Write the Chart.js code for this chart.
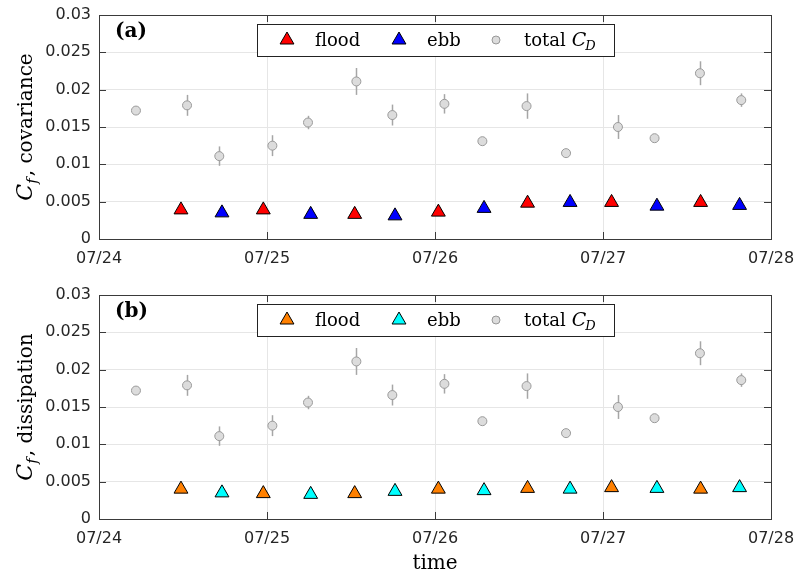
<!DOCTYPE html>
<html><head><meta charset="utf-8">
<script src="https://cdn.jsdelivr.net/npm/chart.js@4/dist/chart.umd.min.js"></script>
<style>
html,body{margin:0;padding:0;background:#fff;}
#wrap{position:relative;width:795px;height:575px;overflow:hidden;}
canvas{position:absolute;left:0;}
</style></head><body>
<div id="wrap"><canvas id="c1" width="795" height="280" style="top:0"></canvas><canvas id="c2" width="795" height="295" style="top:280px"></canvas></div>
<script>
// x values: days since 07/24 00:00
const dayLabels = ["07/24","07/25","07/26","07/27","07/28"];
const yTickLabels = ["0","0.005","0.01","0.015","0.02","0.025","0.03"];

const tTotal = [0.22,0.524,0.716,1.032,1.244,1.532,1.746,2.056,2.282,2.545,2.780,3.089,3.307,3.577,3.823];
const cdTotal = [0.0172,0.0179,0.0111,0.0125,0.0156,0.0211,0.0166,0.0181,0.0131,0.0178,0.0115,0.0150,0.0135,0.0222,0.0186];
const cdErr = [0.0002,0.0014,0.0013,0.0014,0.0009,0.0018,0.0014,0.0013,0.0003,0.0017,0.0004,0.0016,0.0002,0.0016,0.0009];

const tFlood = [0.488,0.978,1.522,2.020,2.551,3.051,3.581];
const tEbb = [0.732,1.260,1.762,2.292,2.804,3.321,3.813];

const covFlood = [0.0039,0.0039,0.0033,0.0036,0.0048,0.0049,0.0049];
const covEbb = [0.0035,0.0033,0.0031,0.0041,0.0049,0.0044,0.0045];
const dissFlood = [0.0040,0.0034,0.0034,0.0040,0.0041,0.0042,0.0040];
const dissEbb = [0.0035,0.0033,0.0037,0.0038,0.0040,0.0041,0.0042];

const SERIF = '"DejaVu Serif", serif';
const SANS = '"DejaVu Sans", sans-serif';
const AX = '#3a3a3a';

function pts(xs, ys){ return xs.map((x,i)=>({x:x,y:ys[i]})); }

function drawTri(ctx,x,y,r,fill){
  ctx.beginPath();
  ctx.moveTo(x, y - r);
  ctx.lineTo(x + r*Math.sin(2*Math.PI/3), y - r*Math.cos(2*Math.PI/3));
  ctx.lineTo(x + r*Math.sin(4*Math.PI/3), y - r*Math.cos(4*Math.PI/3));
  ctx.closePath();
  ctx.fillStyle = fill; ctx.fill();
  ctx.strokeStyle = '#000'; ctx.lineWidth = 1; ctx.stroke();
}

function makeChart(id, canvasH, floodVals, ebbVals, floodCol, ebbCol, letter, yName, showTime){
  const plugin = {
    id: 'deco'+id,
    beforeDatasetsDraw(chart){
      const ctx = chart.ctx, xs = chart.scales.x, ys = chart.scales.y;
      ctx.save();
      ctx.strokeStyle = '#a6a6a6'; ctx.lineWidth = 1.5;
      tTotal.forEach((t,i)=>{
        const px = Math.round(xs.getPixelForValue(t)) + 0.5;
        ctx.beginPath();
        ctx.moveTo(px, ys.getPixelForValue(cdTotal[i]-cdErr[i]));
        ctx.lineTo(px, ys.getPixelForValue(cdTotal[i]+cdErr[i]));
        ctx.stroke();
      });
      ctx.restore();
    },
    afterDraw(chart){
      const ctx = chart.ctx, a = chart.chartArea, xs = chart.scales.x, ys = chart.scales.y;
      ctx.save();
      // box
      ctx.strokeStyle = AX; ctx.lineWidth = 1;
      ctx.strokeRect(Math.round(a.left)+0.5, Math.round(a.top)+0.5, Math.round(a.right-a.left), Math.round(a.bottom-a.top));
      // inward ticks
      const TL = 7;
      ctx.beginPath();
      xs.ticks.forEach(t=>{
        const px = Math.round(xs.getPixelForValue(t.value))+0.5;
        ctx.moveTo(px, a.bottom); ctx.lineTo(px, a.bottom-TL);
        ctx.moveTo(px, a.top); ctx.lineTo(px, a.top+TL);
      });
      ys.ticks.forEach(t=>{
        const py = Math.round(ys.getPixelForValue(t.value))+0.5;
        ctx.moveTo(a.left, py); ctx.lineTo(a.left+TL, py);
        ctx.moveTo(a.right, py); ctx.lineTo(a.right-TL, py);
      });
      ctx.stroke();
      // panel letter
      ctx.fillStyle = '#000';
      ctx.font = 'bold 20px ' + SERIF;
      ctx.textBaseline = 'alphabetic'; ctx.textAlign = 'left';
      ctx.fillText(letter, 115, 37);
      // legend
      const L = {x:257, y:24, w:357, h:32};
      ctx.fillStyle = '#fff'; ctx.fillRect(L.x, L.y, L.w, L.h);
      ctx.strokeStyle = '#222'; ctx.lineWidth = 1;
      ctx.strokeRect(L.x+0.5, L.y+0.5, L.w, L.h);
      drawTri(ctx, 287, 40, 8, floodCol);
      drawTri(ctx, 399, 40, 8, ebbCol);
      ctx.beginPath(); ctx.arc(496, 40, 4, 0, Math.PI*2);
      ctx.fillStyle = '#dcdcdc'; ctx.fill(); ctx.strokeStyle = '#999'; ctx.lineWidth = 1; ctx.stroke();
      ctx.fillStyle = '#000';
      ctx.font = '18px ' + SERIF;
      ctx.fillText('flood', 315, 46);
      ctx.fillText('ebb', 427, 46);
      ctx.fillText('total', 524, 46);
      const cx = 524 + ctx.measureText('total').width + 6;
      ctx.font = 'italic 19px ' + SERIF;
      ctx.fillText('C', cx, 46);
      const wc2 = ctx.measureText('C').width;
      ctx.font = 'italic 13px ' + SERIF;
      ctx.fillText('D', cx + wc2 - 1, 50);
      // y title
      ctx.save();
      ctx.font = 'italic 22px ' + SERIF;
      const wC = ctx.measureText('C').width;
      ctx.font = 'italic 15px ' + SERIF;
      const wf = ctx.measureText('f').width;
      ctx.font = '20px ' + SERIF;
      const rest = ', ' + yName;
      const wr = ctx.measureText(rest).width;
      const total = wC + wf + 2 + wr;
      const cy = (a.top + a.bottom)/2;
      ctx.translate(32, cy + total/2);
      ctx.rotate(-Math.PI/2);
      ctx.fillStyle = '#000';
      ctx.font = 'italic 22px ' + SERIF;
      ctx.fillText('C', 0, 0);
      ctx.font = 'italic 15px ' + SERIF;
      ctx.fillText('f', wC, 5);
      ctx.font = '20px ' + SERIF;
      ctx.fillText(rest, wC + wf + 2, 0);
      ctx.restore();
      if (showTime){
        ctx.font = '20px ' + SERIF;
        ctx.textAlign = 'center';
        ctx.fillStyle = '#000';
        ctx.fillText('time', (a.left+a.right)/2, 289);
      }
      ctx.restore();
    }
  };
  return new Chart(document.getElementById(id), {
    type: 'scatter',
    data: { datasets: [
      { label:'flood', data: pts(tFlood, floodVals), pointStyle:'triangle', pointRadius:8, pointHoverRadius:8,
        backgroundColor: floodCol, borderColor:'#000', borderWidth:1, order:0 },
      { label:'ebb', data: pts(tEbb, ebbVals), pointStyle:'triangle', pointRadius:8, pointHoverRadius:8,
        backgroundColor: ebbCol, borderColor:'#000', borderWidth:1, order:1 },
      { label:'total C_D', data: pts(tTotal, cdTotal), pointStyle:'circle', pointRadius:4.5, pointHoverRadius:4.5,
        backgroundColor:'#dcdcdc', borderColor:'#9a9a9a', borderWidth:1, order:2 }
    ]},
    options: {
      responsive:false, animation:false, devicePixelRatio:1,
      layout:{ padding:{ left:0, right:24, top:15, bottom:0 } },
      plugins:{ legend:{display:false}, tooltip:{enabled:false} },
      scales:{
        x:{ type:'linear', min:0, max:4,
            afterFit(s){ s.height = canvasH - 239; s.paddingLeft = 0; s.paddingRight = 0; },
            grid:{ color:'#e6e6e6', drawTicks:false, lineWidth:1 },
            border:{ display:false },
            ticks:{ stepSize:1, autoSkip:false, padding:10, color:'#262626', font:{family:SANS, size:16},
                    callback:(v)=> dayLabels[Math.round(v)] } },
        y:{ type:'linear', min:0, max:0.03,
            afterFit(s){ s.width = 99; s.paddingTop = 0; s.paddingBottom = 0; },
            grid:{ color:'#e6e6e6', drawTicks:false, lineWidth:1 },
            border:{ display:false },
            ticks:{ stepSize:0.005, autoSkip:false, padding:8, color:'#262626', font:{family:SANS, size:16},
                    callback:(v,i)=> yTickLabels[i] } }
      }
    },
    plugins:[plugin]
  });
}

makeChart('c1', 280, covFlood, covEbb, '#ff0000', '#0000ff', '(a)', 'covariance', false);
makeChart('c2', 295, dissFlood, dissEbb, '#ff8000', '#00ffff', '(b)', 'dissipation', true);
</script>
</body></html>
